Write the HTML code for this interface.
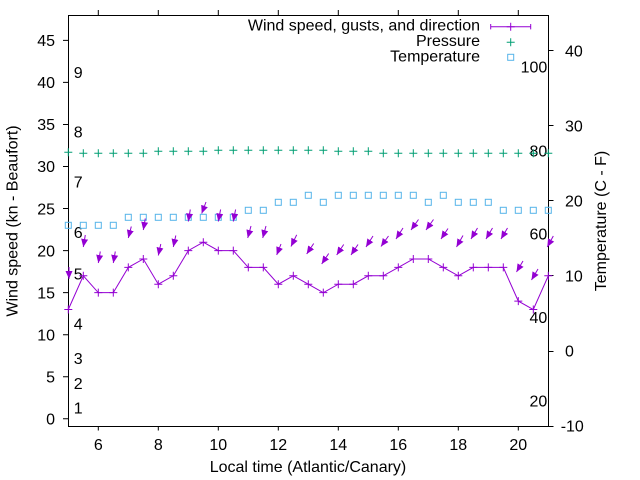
<!DOCTYPE html>
<html><head><meta charset="utf-8"><style>
html,body{margin:0;padding:0;background:#fff;}
svg{display:block;}
text{font-family:"Liberation Sans",Arial,sans-serif;font-size:16px;fill:#000;}
</style></head><body>
<svg width="640" height="480" viewBox="0 0 640 480" xmlns="http://www.w3.org/2000/svg">
<defs>
<path id="pl" d="M-4 0h8M0 -4v8"/>
<rect id="sq" x="-3" y="-3" width="6" height="6" fill="none"/>
<marker id="ah" viewBox="0 0 9 9" refX="8" refY="4.5" markerWidth="9" markerHeight="9" orient="auto" markerUnits="userSpaceOnUse"><path d="M0,1 L8,4.5 L0,8 Z" fill="#9400d3"/></marker>
</defs>
<rect x="0" y="0" width="640" height="480" fill="#fff"/>

<g stroke="#000" stroke-width="1" fill="none">
<rect x="68.5" y="15.5" width="480" height="411"/>
<path d="M63 418.8h5.5M63 376.75h5.5M63 334.7h5.5M63 292.65h5.5M63 250.6h5.5M63 208.55h5.5M63 166.5h5.5M63 124.45h5.5M63 82.4h5.5M63 40.35h5.5"/>
<path d="M98.3 426.5v4M158.3 426.5v4M218.3 426.5v4M278.3 426.5v4M338.3 426.5v4M398.3 426.5v4M458.3 426.5v4M518.3 426.5v4"/>
<path d="M98.3 10v5.5M158.3 10v5.5M218.3 10v5.5M278.3 10v5.5M338.3 10v5.5M398.3 10v5.5M458.3 10v5.5M518.3 10v5.5"/>
<path d="M548.5 351.5h5M548.5 275.5h5M548.5 200.5h5M548.5 125.5h5M548.5 50.5h5M548.5 426.5h5"/>
</g>

<g text-anchor="end">
<text x="55" y="424.5">0</text>
<text x="55" y="382.5">5</text>
<text x="55" y="340.4">10</text>
<text x="55" y="298.4">15</text>
<text x="55" y="256.3">20</text>
<text x="55" y="214.3">25</text>
<text x="55" y="172.2">30</text>
<text x="55" y="130.2">35</text>
<text x="55" y="88.1">40</text>
<text x="55" y="46">45</text>
</g>

<g text-anchor="middle">
<text x="98.3" y="450">6</text>
<text x="158.3" y="450">8</text>
<text x="218.3" y="450">10</text>
<text x="278.3" y="450">12</text>
<text x="338.3" y="450">14</text>
<text x="398.3" y="450">16</text>
<text x="458.3" y="450">18</text>
<text x="518.3" y="450">20</text>
</g>

<text x="560.7" y="431.4">-10</text>
<text x="565" y="356.4">0</text>
<text x="565" y="281.4">10</text>
<text x="565" y="206.4">20</text>
<text x="565" y="131.4">30</text>
<text x="565" y="56.4">40</text>

<g text-anchor="end">
<text x="547.3" y="72.4">100</text>
<text x="547.3" y="156.7">80</text>
<text x="547.3" y="239.7">60</text>
<text x="547.3" y="323">40</text>
<text x="547.3" y="406.4">20</text>
</g>

<g>
<text x="73.7" y="78">9</text>
<text x="73.7" y="137.4">8</text>
<text x="73.7" y="187.4">7</text>
<text x="73.7" y="238">6</text>
<text x="73.7" y="279.7">5</text>
<text x="73.7" y="329.7">4</text>
<text x="73.7" y="364">3</text>
<text x="73.7" y="389">2</text>
<text x="73.7" y="413.4">1</text>
</g>

<text x="308" y="472" text-anchor="middle">Local time (Atlantic/Canary)</text>
<text transform="translate(17.5,221) rotate(-90)" text-anchor="middle">Wind speed (kn - Beaufort)</text>
<text transform="translate(606,221) rotate(-90)" text-anchor="middle">Temperature (C - F)</text>

<g text-anchor="end">
<text x="480" y="30.7">Wind speed, gusts, and direction</text>
<text x="480" y="46">Pressure</text>
<text x="480" y="61.3">Temperature</text>
</g>
<g stroke="#9400d3" stroke-width="1" fill="none">
<path d="M490.7 26.7H530.7M490.7 24v5.4M530.7 24v5.4"/>
<use href="#pl" x="510.7" y="26.7"/>
</g>
<use href="#pl" x="510.7" y="42.3" stroke="#009e73" stroke-width="1"/>
<use href="#sq" x="510.7" y="57.3" stroke="#56b4e9" stroke-width="1"/>

<g stroke="#009e73" stroke-width="1">
<use href="#pl" x="68.3" y="152.3"/>
<use href="#pl" x="83.3" y="153.3"/>
<use href="#pl" x="98.3" y="153.3"/>
<use href="#pl" x="113.3" y="153.3"/>
<use href="#pl" x="128.3" y="153.3"/>
<use href="#pl" x="143.3" y="153.3"/>
<use href="#pl" x="158.3" y="151.3"/>
<use href="#pl" x="173.3" y="151.3"/>
<use href="#pl" x="188.3" y="151.3"/>
<use href="#pl" x="203.3" y="151.3"/>
<use href="#pl" x="218.3" y="150.3"/>
<use href="#pl" x="233.3" y="150.3"/>
<use href="#pl" x="248.3" y="150.3"/>
<use href="#pl" x="263.3" y="150.3"/>
<use href="#pl" x="278.3" y="150.3"/>
<use href="#pl" x="293.3" y="150.3"/>
<use href="#pl" x="308.3" y="150.3"/>
<use href="#pl" x="323.3" y="150.3"/>
<use href="#pl" x="338.3" y="151.3"/>
<use href="#pl" x="353.3" y="151.3"/>
<use href="#pl" x="368.3" y="151.3"/>
<use href="#pl" x="383.3" y="153.3"/>
<use href="#pl" x="398.3" y="153.3"/>
<use href="#pl" x="413.3" y="153.3"/>
<use href="#pl" x="428.3" y="153.3"/>
<use href="#pl" x="443.3" y="153.3"/>
<use href="#pl" x="458.3" y="153.3"/>
<use href="#pl" x="473.3" y="153.3"/>
<use href="#pl" x="488.3" y="153.3"/>
<use href="#pl" x="503.3" y="153.3"/>
<use href="#pl" x="518.3" y="153.3"/>
<use href="#pl" x="533.3" y="153.3"/>
<use href="#pl" x="548.3" y="153.3"/>
</g>

<g stroke="#56b4e9" stroke-width="1">
<use href="#sq" x="68.3" y="225.3"/>
<use href="#sq" x="83.3" y="225.3"/>
<use href="#sq" x="98.3" y="225.3"/>
<use href="#sq" x="113.3" y="225.3"/>
<use href="#sq" x="128.3" y="217.3"/>
<use href="#sq" x="143.3" y="217.3"/>
<use href="#sq" x="158.3" y="217.3"/>
<use href="#sq" x="173.3" y="217.3"/>
<use href="#sq" x="188.3" y="217.3"/>
<use href="#sq" x="203.3" y="217.3"/>
<use href="#sq" x="218.3" y="217.3"/>
<use href="#sq" x="233.3" y="217.3"/>
<use href="#sq" x="248.3" y="210.3"/>
<use href="#sq" x="263.3" y="210.3"/>
<use href="#sq" x="278.3" y="202.3"/>
<use href="#sq" x="293.3" y="202.3"/>
<use href="#sq" x="308.3" y="195.3"/>
<use href="#sq" x="323.3" y="202.3"/>
<use href="#sq" x="338.3" y="195.3"/>
<use href="#sq" x="353.3" y="195.3"/>
<use href="#sq" x="368.3" y="195.3"/>
<use href="#sq" x="383.3" y="195.3"/>
<use href="#sq" x="398.3" y="195.3"/>
<use href="#sq" x="413.3" y="195.3"/>
<use href="#sq" x="428.3" y="202.3"/>
<use href="#sq" x="443.3" y="195.3"/>
<use href="#sq" x="458.3" y="202.3"/>
<use href="#sq" x="473.3" y="202.3"/>
<use href="#sq" x="488.3" y="202.3"/>
<use href="#sq" x="503.3" y="210.3"/>
<use href="#sq" x="518.3" y="210.3"/>
<use href="#sq" x="533.3" y="210.3"/>
<use href="#sq" x="548.3" y="210.3"/>
</g>

<g stroke="#9400d3" stroke-width="1" fill="none">
<polyline points="68.3,309.5 83.3,275.8 98.3,292.65 113.3,292.65 128.3,267.4 143.3,259 158.3,284.2 173.3,275.8 188.3,250.6 203.3,242.2 218.3,250.6 233.3,250.6 248.3,267.4 263.3,267.4 278.3,284.2 293.3,275.8 308.3,284.2 323.3,292.65 338.3,284.2 353.3,284.2 368.3,275.8 383.3,275.8 398.3,267.4 413.3,259 428.3,259 443.3,267.4 458.3,275.8 473.3,267.4 488.3,267.4 503.3,267.4 518.3,301.1 533.3,309.5 548.3,275.8"/>
<use href="#pl" x="68.3" y="309.5"/>
<use href="#pl" x="83.3" y="275.8"/>
<use href="#pl" x="98.3" y="292.65"/>
<use href="#pl" x="113.3" y="292.65"/>
<use href="#pl" x="128.3" y="267.4"/>
<use href="#pl" x="143.3" y="259"/>
<use href="#pl" x="158.3" y="284.2"/>
<use href="#pl" x="173.3" y="275.8"/>
<use href="#pl" x="188.3" y="250.6"/>
<use href="#pl" x="203.3" y="242.2"/>
<use href="#pl" x="218.3" y="250.6"/>
<use href="#pl" x="233.3" y="250.6"/>
<use href="#pl" x="248.3" y="267.4"/>
<use href="#pl" x="263.3" y="267.4"/>
<use href="#pl" x="278.3" y="284.2"/>
<use href="#pl" x="293.3" y="275.8"/>
<use href="#pl" x="308.3" y="284.2"/>
<use href="#pl" x="323.3" y="292.65"/>
<use href="#pl" x="338.3" y="284.2"/>
<use href="#pl" x="353.3" y="284.2"/>
<use href="#pl" x="368.3" y="275.8"/>
<use href="#pl" x="383.3" y="275.8"/>
<use href="#pl" x="398.3" y="267.4"/>
<use href="#pl" x="413.3" y="259"/>
<use href="#pl" x="428.3" y="259"/>
<use href="#pl" x="443.3" y="267.4"/>
<use href="#pl" x="458.3" y="275.8"/>
<use href="#pl" x="473.3" y="267.4"/>
<use href="#pl" x="488.3" y="267.4"/>
<use href="#pl" x="503.3" y="267.4"/>
<use href="#pl" x="518.3" y="301.1"/>
<use href="#pl" x="533.3" y="309.5"/>
<use href="#pl" x="548.3" y="275.8"/>
</g>

<g stroke="#9400d3" stroke-width="1" marker-end="url(#ah)">
<line x1="69" y1="267" x2="69" y2="279"/>
<line x1="85.3" y1="235" x2="83.3" y2="247"/>
<line x1="100.3" y1="251.5" x2="98.3" y2="263"/>
<line x1="115.3" y1="251.5" x2="113.3" y2="263"/>
<line x1="131.3" y1="226.5" x2="128.3" y2="238"/>
<line x1="145.3" y1="218.5" x2="143.3" y2="230"/>
<line x1="160.8" y1="244" x2="158.3" y2="255.5"/>
<line x1="175.8" y1="235.5" x2="173.3" y2="247"/>
<line x1="190.3" y1="209.5" x2="188.3" y2="221.5"/>
<line x1="206" y1="202" x2="201.7" y2="213.5"/>
<line x1="220.6" y1="209.5" x2="218.3" y2="221.5"/>
<line x1="235.6" y1="209.5" x2="233.3" y2="221.5"/>
<line x1="251" y1="226" x2="247.7" y2="238"/>
<line x1="266" y1="226" x2="262.7" y2="238"/>
<line x1="281" y1="244" x2="276.7" y2="255"/>
<line x1="296.7" y1="234.8" x2="291" y2="246.5"/>
<line x1="313.7" y1="243.5" x2="306.7" y2="254"/>
<line x1="328.7" y1="253.5" x2="321.7" y2="264"/>
<line x1="343.7" y1="244.5" x2="336.7" y2="255"/>
<line x1="358" y1="244.5" x2="351" y2="255"/>
<line x1="373" y1="236" x2="366" y2="247"/>
<line x1="388.5" y1="236" x2="381" y2="246.5"/>
<line x1="403" y1="228" x2="396" y2="239"/>
<line x1="418.5" y1="219.5" x2="411" y2="230"/>
<line x1="433.5" y1="219.5" x2="426" y2="230"/>
<line x1="448" y1="228.5" x2="441" y2="239"/>
<line x1="463" y1="235.5" x2="456.5" y2="247"/>
<line x1="477.5" y1="228" x2="471" y2="239"/>
<line x1="492.5" y1="228" x2="486" y2="239"/>
<line x1="507.5" y1="228" x2="501" y2="239"/>
<line x1="523" y1="261" x2="516.5" y2="272"/>
<line x1="538" y1="269" x2="531.5" y2="280"/>
<line x1="553.3" y1="236" x2="547.3" y2="247"/>
</g>
</svg>
</body></html>
